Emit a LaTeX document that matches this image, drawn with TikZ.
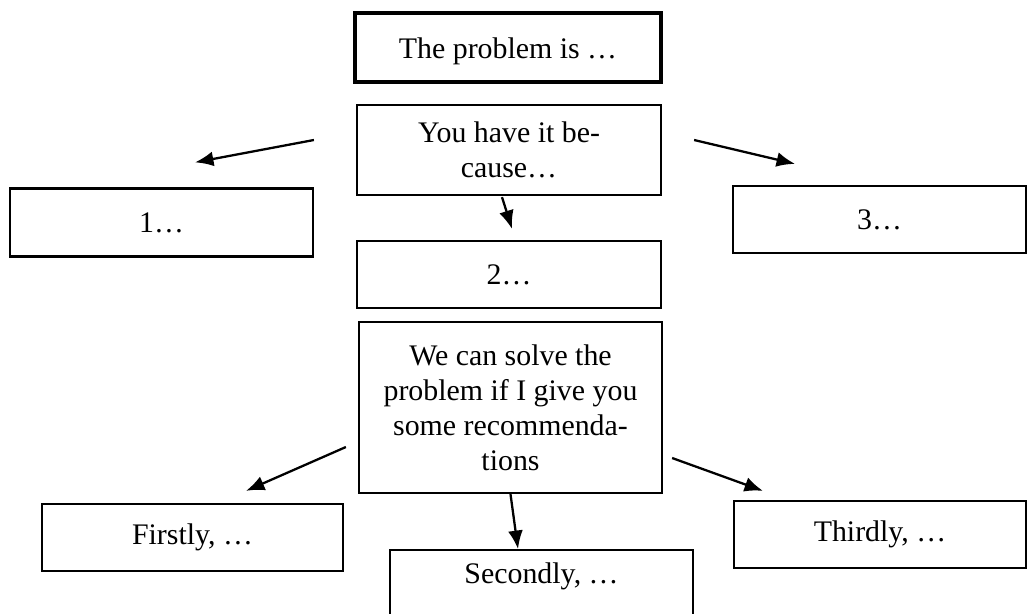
\documentclass[tikz,border=0pt]{standalone}
\usepackage{fontspec}
\setmainfont{Liberation Serif}
\usetikzlibrary{arrows.meta}

\begin{document}
\begin{tikzpicture}[x=0.02cm,y=-0.02cm,>={Latex[length=10.5pt,width=8.5pt]},
  caja/.style={draw,line width=1.3pt,align=center,inner sep=2pt,
    font=\fontsize{17}{20}\selectfont},
  flecha/.style={->,line width=1.3pt}]
  \useasboundingbox (0,0) rectangle (1027,613);
  % fila de arriba
  \node[caja,line width=2.3pt,minimum width=6.12cm,text height=24pt,text depth=11pt] (problema) at (508,47.5) {The problem is …};
  \node[caja,minimum width=6.08cm,minimum height=1.80cm] (causa) at (509,150) {You have it be-\\cause…};
  \node[caja,minimum width=6.06cm,minimum height=1.36cm] (uno) at (161.5,222.5) {1…};
  \node[caja,minimum width=6.08cm,minimum height=1.34cm] (dos) at (509,274.5) {2…};
  \node[caja,minimum width=5.86cm,minimum height=1.34cm] (tres) at (879.5,219.5) {3…};
  % fila de abajo
  \node[caja,minimum width=6.06cm,minimum height=3.42cm] (solucion) at (510.5,407.5) {We can solve the\\problem if I give you\\some recommenda-\\tions};
  \node[caja,minimum width=6.02cm,minimum height=1.34cm] (primero) at (192.5,537.5) {Firstly, …};
  \node[caja,minimum width=6.06cm,text height=17pt,text depth=30pt,anchor=north] (segundo) at (541.5,549) {Secondly, …};
  \node[caja,minimum width=5.84cm,minimum height=1.34cm] (tercero) at (880,534.5) {Thirdly, …};
  % flechas
  \draw[flecha] ([shift={(-42,-10)}]causa.west) -- ([shift={(33.5,-25)}]uno.north);
  \draw[flecha] ([shift={(32,-10)}]causa.east) -- ([shift={(-84.5,-21)}]tres.north);
  \draw[flecha] ([shift={(-7,1)}]causa.south) -- ([shift={(3,-11)}]dos.north);
  \draw[flecha] ([shift={(-12,39.5)}]solucion.west) -- ([shift={(53.5,-12)}]primero.north);
  \draw[flecha] ([shift={(9,50.5)}]solucion.east) -- ([shift={(-117,-9)}]tercero.north);
  \draw[flecha] (solucion.south) -- ([shift={(-23.5,0)}]segundo.north);
\end{tikzpicture}
\end{document}
